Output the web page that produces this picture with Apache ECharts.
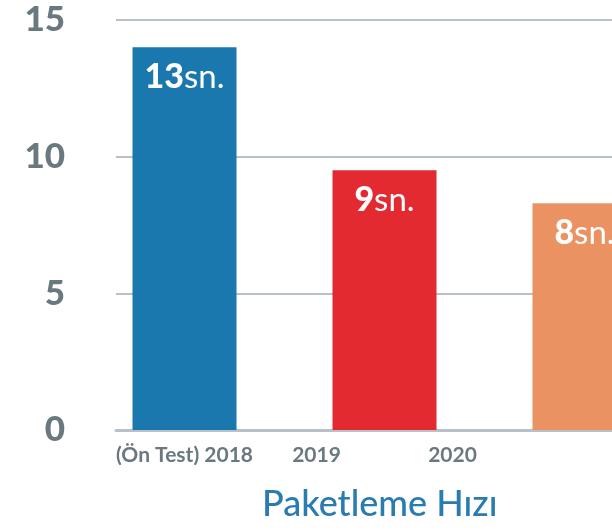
<!DOCTYPE html>
<html>
<head>
<meta charset="utf-8">
<script src="https://cdn.jsdelivr.net/npm/echarts@6/dist/echarts.min.js"></script>
<style>
  html, body { margin: 0; padding: 0; background: #fff; }
  #chart { width: 612px; height: 531px; }
</style>
</head>
<body>
<div id="chart"></div>
<script>
// data
var categories = ["(Ön Test) 2018", "2019", "2020"];
var speedValues = [14, 9.5, 8.3];
var labelValues = [13, 9, 8];
var barColors = ["#1a78ae", "#e22a30", "#ea9262"];
var chartTitle = "Paketleme Hızı";

// where the category names sit on the x scale (they don't line up with the bars)
var labelSlots = [0, 0.66, 1.34];

var grey = "#6a7880";
var lineGrey = "#b8c1c7";

var chart = echarts.init(document.getElementById("chart"));

var option = {
  animation: false,
  grid: {
    left: 116,
    right: 0,
    top: 20,
    bottom: 101
  },
  graphic: [
    {
      type: "text",
      left: 262,
      top: 486,
      style: {
        text: chartTitle,
        fill: "#2a7bb0",
        font: "500 36px Lato"
      }
    }
  ],
  xAxis: {
    type: "value",
    min: -0.3425,
    max: 2.1375,
    axisLine: {
      show: true,
      lineStyle: { color: lineGrey, width: 3 }
    },
    axisTick: { show: false },
    splitLine: { show: false },
    axisLabel: {
      customValues: labelSlots,
      margin: 15,
      color: grey,
      fontFamily: "Lato",
      fontWeight: "bold",
      fontSize: 21,
      formatter: function(v) {
        var best = 0;
        labelSlots.forEach(function(s, i) {
          if (Math.abs(s - v) < Math.abs(labelSlots[best] - v)) best = i;
        });
        return categories[best];
      }
    }
  },
  yAxis: {
    type: "value",
    min: 0,
    max: 15,
    interval: 5,
    axisLine: { show: false },
    axisTick: { show: false },
    axisLabel: {
      margin: 51,
      color: grey,
      fontFamily: "Lato",
      fontWeight: 900,
      fontSize: 35
    },
    splitLine: {
      lineStyle: { color: lineGrey, width: 2 }
    }
  },
  series: [
    {
      type: "bar",
      barWidth: 104,
      data: speedValues.map(function(v, i) {
        return {
          value: [i, v],
          itemStyle: { color: barColors[i] }
        };
      }),
      label: {
        show: true,
        position: "insideTop",
        distance: 13,
        formatter: function(p) {
          return "{num|" + labelValues[p.dataIndex] + "}{unit|sn.}";
        },
        rich: {
          num: {
            color: "#fff",
            fontFamily: "Lato",
            fontWeight: 900,
            fontSize: 34
          },
          unit: {
            color: "#fff",
            fontFamily: "Lato",
            fontSize: 33
          }
        }
      }
    }
  ]
};

chart.setOption(option);
</script>
</body>
</html>
